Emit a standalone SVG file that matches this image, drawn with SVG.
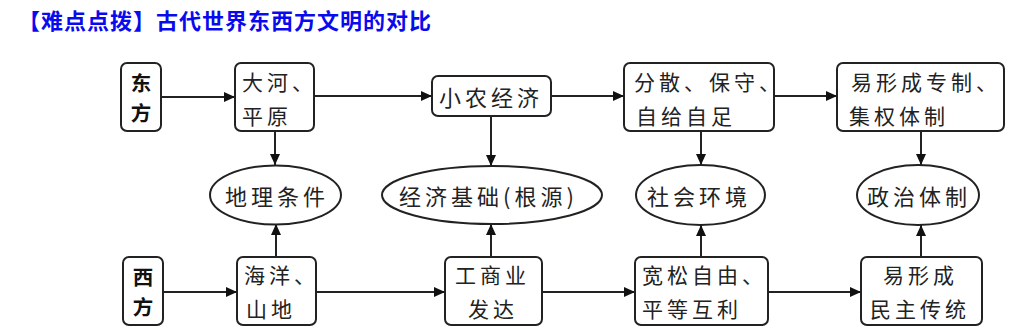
<svg xmlns="http://www.w3.org/2000/svg" width="1026" height="333" viewBox="0 0 1026 333">
<style>
.box{fill:#fff;stroke:#222;stroke-width:2}
.t{font-family:"Noto Sans CJK SC","Noto Sans",sans-serif;font-size:21px;fill:#222;letter-spacing:4px;dominant-baseline:central}
.e{font-family:"Noto Sans CJK SC","Noto Sans",sans-serif;font-size:22px;fill:#222;letter-spacing:4px;dominant-baseline:central}
.h{font-family:"Noto Sans CJK SC","Noto Sans",sans-serif;font-size:20.5px;font-weight:bold;fill:#111;dominant-baseline:central;text-anchor:middle}
.title{font-family:"Noto Sans CJK SC","Noto Sans",sans-serif;font-size:22px;font-weight:bold;fill:#0a0aee;letter-spacing:1px}
.c{stroke:#222;stroke-width:2;fill:none;marker-end:url(#ah)}
</style>
<defs>
<marker id="ah" markerUnits="userSpaceOnUse" markerWidth="11" markerHeight="10" refX="11" refY="5" orient="auto">
<path d="M0,0 L11,5 L0,10 Z" fill="#111"/>
</marker>
</defs>
<rect width="1026" height="333" fill="#fff"/>
<text class="title" x="18" y="29">【难点点拨】古代世界东西方文明的对比</text>

<g id="connectors">
<line class="c" x1="161" y1="97" x2="235" y2="97"/>
<line class="c" x1="314" y1="96" x2="432" y2="96"/>
<line class="c" x1="551" y1="96" x2="624" y2="96"/>
<line class="c" x1="774" y1="96" x2="837" y2="96"/>
<line class="c" x1="275" y1="131" x2="275" y2="165"/>
<line class="c" x1="491" y1="116" x2="491" y2="166"/>
<line class="c" x1="701" y1="131" x2="701" y2="165"/>
<line class="c" x1="921" y1="131" x2="921" y2="165"/>
<line class="c" x1="163" y1="292" x2="237" y2="292"/>
<line class="c" x1="316" y1="292" x2="445" y2="292"/>
<line class="c" x1="542" y1="292" x2="635" y2="292"/>
<line class="c" x1="768" y1="292" x2="861" y2="292"/>
<line class="c" x1="276" y1="257" x2="276" y2="224"/>
<line class="c" x1="491" y1="257" x2="491" y2="224"/>
<line class="c" x1="701" y1="257" x2="701" y2="225"/>
<line class="c" x1="921" y1="257" x2="921" y2="225"/>
</g>

<g id="east">
<rect class="box" x="121" y="63" width="40" height="68" rx="6"/>
<text class="h" x="141" y="82">东</text>
<text class="h" x="141" y="112">方</text>
</g>
<g id="dahe">
<rect class="box" x="235" y="63" width="79" height="68" rx="6"/>
<text class="t" x="242" y="81">大河、</text>
<text class="t" x="242" y="115">平原</text>
</g>
<g id="xiaonong">
<rect class="box" x="432" y="76" width="119" height="40" rx="6"/>
<text class="e" x="439" y="96">小农经济</text>
</g>
<g id="fensan">
<rect class="box" x="624" y="63" width="150" height="68" rx="6"/>
<text class="t" x="634" y="81">分散、保守、</text>
<text class="t" x="636" y="115">自给自足</text>
</g>
<g id="zhuanzhi">
<rect class="box" x="837" y="63" width="167" height="68" rx="6"/>
<text class="t" x="851" y="81">易形成专制、</text>
<text class="t" x="849" y="115">集权体制</text>
</g>

<g id="dili">
<ellipse class="box" cx="275.5" cy="195" rx="65.5" ry="29.5"/>
<text class="e" x="225" y="195">地理条件</text>
</g>
<g id="jingji">
<ellipse class="box" cx="492" cy="195" rx="110" ry="29"/>
<text class="e" x="399" y="195">经济基础(根源)</text>
</g>
<g id="shehui">
<ellipse class="box" cx="700.5" cy="195" rx="64.5" ry="30"/>
<text class="e" x="647" y="195">社会环境</text>
</g>
<g id="zhengzhi">
<ellipse class="box" cx="918" cy="195" rx="61" ry="30"/>
<text class="e" x="867" y="195">政治体制</text>
</g>

<g id="west">
<rect class="box" x="123" y="257" width="40" height="68" rx="6"/>
<text class="h" x="143" y="276">西</text>
<text class="h" x="143" y="306">方</text>
</g>
<g id="haiyang">
<rect class="box" x="237" y="257" width="79" height="68" rx="6"/>
<text class="t" x="244" y="274">海洋、</text>
<text class="t" x="246" y="308">山地</text>
</g>
<g id="gongshang">
<rect class="box" x="445" y="257" width="97" height="68" rx="6"/>
<text class="t" x="455" y="274">工商业</text>
<text class="t" x="468" y="308">发达</text>
</g>
<g id="kuansong">
<rect class="box" x="635" y="257" width="133" height="68" rx="6"/>
<text class="t" x="642" y="274">宽松自由、</text>
<text class="t" x="642" y="308">平等互利</text>
</g>
<g id="minzhu">
<rect class="box" x="861" y="257" width="121" height="68" rx="6"/>
<text class="t" x="883" y="274">易形成</text>
<text class="t" x="870" y="308">民主传统</text>
</g>
</svg>
